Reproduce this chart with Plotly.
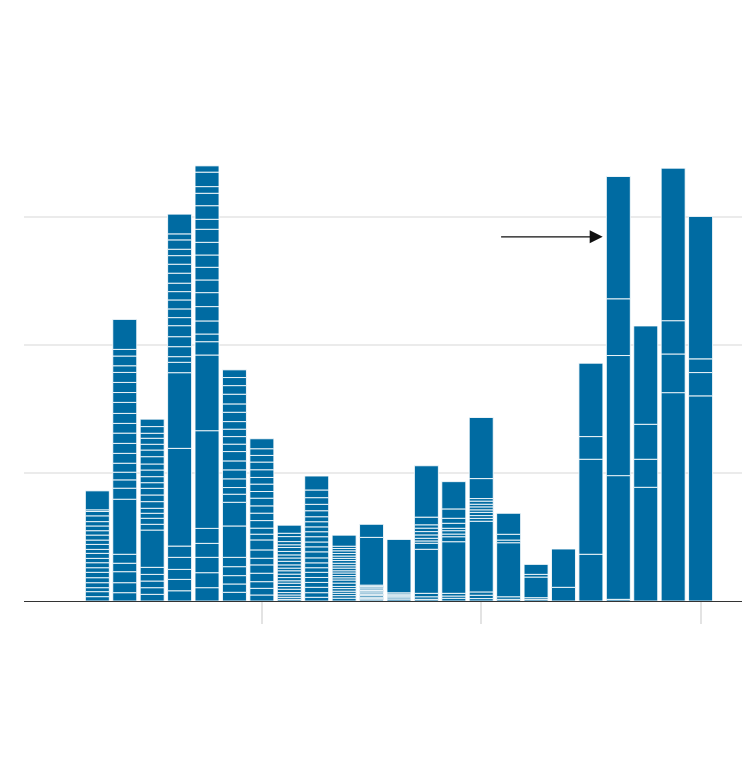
import plotly.graph_objects as go

# Years (one bar per year)
years = list(range(1998, 2021))

# Segment values for each bar, listed from the TOP of the bar downwards
seg_1998 = [14.8, 1.3, 3.4, 4.5, 3.4, 3.7, 3.4, 3.9, 3.4, 3.9, 3.1, 3.9, 3.4, 3.9, 3.6, 4.2, 3.9, 3.9, 3.1, 3.9, 3.4]
seg_1999 = [23.4, 5.2, 7.6, 5.2, 7.8, 7.9, 7.7, 8.6, 7.8, 7.6, 8.0, 7.8, 7.7, 7.0, 6.0, 6.5, 8.6, 43.0, 7.0, 6.6, 8.6, 7.8, 6.5]
seg_2000 = [5.8, 5.2, 3.9, 4.7, 4.5, 5.2, 5.7, 4.7, 5.2, 4.7, 4.4, 5.2, 5.2, 5.2, 3.9, 3.9, 4.7, 4.5, 29.1, 5.5, 5.2, 5.2, 5.2, 5.2]
seg_2001 = [15.4, 4.7, 7.3, 5.0, 6.7, 7.0, 7.8, 6.6, 6.5, 7.0, 6.8, 6.3, 8.6, 7.8, 7.8, 4.4, 8.1, 59.1, 76.3, 8.8, 9.4, 7.8, 8.9, 8.0]
seg_2002 = [4.9, 11.3, 5.2, 9.7, 10.6, 7.8, 10.2, 9.9, 9.6, 9.9, 9.9, 10.9, 11.2, 10.2, 6.0, 10.4, 59.1, 76.3, 11.7, 10.9, 12.0, 11.7, 10.4]
seg_2003 = [6.0, 6.3, 6.7, 7.6, 6.5, 7.3, 5.9, 5.8, 5.9, 5.8, 7.3, 7.0, 7.0, 6.8, 5.2, 6.3, 18.5, 24.5, 7.3, 7.0, 6.5, 6.5, 6.8]
seg_2004 = [7.8, 5.2, 5.2, 6.0, 6.0, 5.2, 5.8, 5.2, 6.0, 5.7, 5.8, 5.9, 4.7, 4.5, 7.8, 6.5, 5.2, 6.5, 6.6, 5.2, 5.2, 4.7]
seg_2005 = [6.3, 2.6, 3.9, 2.5, 2.1, 3.1, 2.7, 2.4, 2.6, 2.8, 2.5, 2.1, 2.6, 2.7, 2.5, 1.9, 2.6, 2.1, 2.6, 1.9, 1.8, 1.6, 1.3]
seg_2006 = [10.9, 6.0, 5.2, 5.0, 4.7, 3.9, 4.0, 3.8, 3.9, 4.1, 3.8, 3.9, 4.7, 3.9, 3.8, 3.6, 4.0, 3.9, 3.8, 4.2, 3.6, 2.9]
seg_2007 = [8.6, 1.8, 1.8, 2.1, 2.0, 1.8, 1.7, 2.1, 2.0, 1.8, 2.1, 1.7, 2.0, 1.8, 1.7, 2.4, 2.6, 1.7, 2.0, 1.7, 1.8, 2.0, 2.2]
seg_2008 = [10.2, 37.3, 1.0, 1.1, 0.9, 1.2, 1.0, 0.9, 1.1, 1.0, 1.2, 0.9, 1.1, 1.0]
seg_2009 = [41.7, 1.0, 0.9, 1.1, 0.9, 1.0, 1.5]
seg_2010 = [40.1, 6.0, 2.6, 2.7, 2.6, 2.6, 2.1, 1.8, 4.7, 34.4, 2.7, 2.0, 1.3]
seg_2011 = [21.3, 7.3, 3.9, 3.9, 1.9, 2.6, 2.1, 3.9, 40.3, 2.1, 1.8, 2.1]
seg_2012 = [47.7, 15.6, 2.0, 2.4, 2.1, 2.3, 2.0, 2.5, 2.2, 2.2, 55.2, 2.6, 2.6, 1.9]
seg_2013 = [16.4, 4.5, 2.1, 42.2, 2.0, 1.3]
seg_2014 = [7.8, 2.1, 16.1, 1.3, 1.3]
seg_2015 = [29.9, 10.7]
seg_2016 = [57.3, 17.7, 74.2, 36.5]
seg_2017 = [95.5, 44.3, 93.8, 96.6, 1.3]
seg_2018 = [76.8, 27.3, 21.9, 88.8]
seg_2019 = [119.1, 26.0, 30.2, 162.7]
seg_2020 = [111.2, 10.7, 18.2, 160.2]

segments_by_year = [seg_1998, seg_1999, seg_2000, seg_2001, seg_2002, seg_2003,
                    seg_2004, seg_2005, seg_2006, seg_2007, seg_2008, seg_2009,
                    seg_2010, seg_2011, seg_2012, seg_2013, seg_2014, seg_2015,
                    seg_2016, seg_2017, seg_2018, seg_2019, seg_2020]

tick_years = [2004, 2012, 2020]
grid_vals = [0, 100, 200, 300]

# Arrow annotation (data coordinates)
arrow_tip = (2016.43, 284.4)
arrow_tail = (2012.67, 284.4)

xs, ys, bases = [], [], []
for yr, segs in zip(years, segments_by_year):
    b = 0.0
    for v in reversed(segs):  # stack from the bottom up
        xs.append(yr)
        ys.append(v)
        bases.append(b)
        b += v

fig = go.Figure()
fig.add_trace(go.Bar(
    x=xs, y=ys, base=bases,
    marker=dict(color="#006BA2", line=dict(color="rgba(255,255,255,0.85)", width=1)),
    showlegend=False, hoverinfo="skip",
))

fig.add_annotation(
    x=arrow_tip[0], y=arrow_tip[1], ax=arrow_tail[0], ay=arrow_tail[1],
    xref="x", yref="y", axref="x", ayref="y",
    text="", showarrow=True, arrowhead=2, arrowsize=2.0, arrowwidth=1.3,
    arrowcolor="#111111", standoff=0,
)

fig.update_layout(
    width=750, height=766,
    margin=dict(l=16, r=13, t=132, b=173),
    paper_bgcolor="white", plot_bgcolor="white",
    barmode="overlay", bargap=0.125,
    xaxis=dict(
        range=[1995.325, 2021.62],
        tickvals=tick_years, showticklabels=False,
        ticks="outside", ticklen=22, tickwidth=1.5, tickcolor="#e3e3e3",
        showgrid=False, zeroline=False,
        showline=True, linecolor="#333333", linewidth=1.3,
    ),
    yaxis=dict(
        range=[0, 360],
        tickvals=grid_vals, showticklabels=False, ticks="",
        showgrid=True, gridcolor="#ebebeb", gridwidth=2,
        zeroline=False, showline=False,
    ),
)

fig.write_html("out.html")
